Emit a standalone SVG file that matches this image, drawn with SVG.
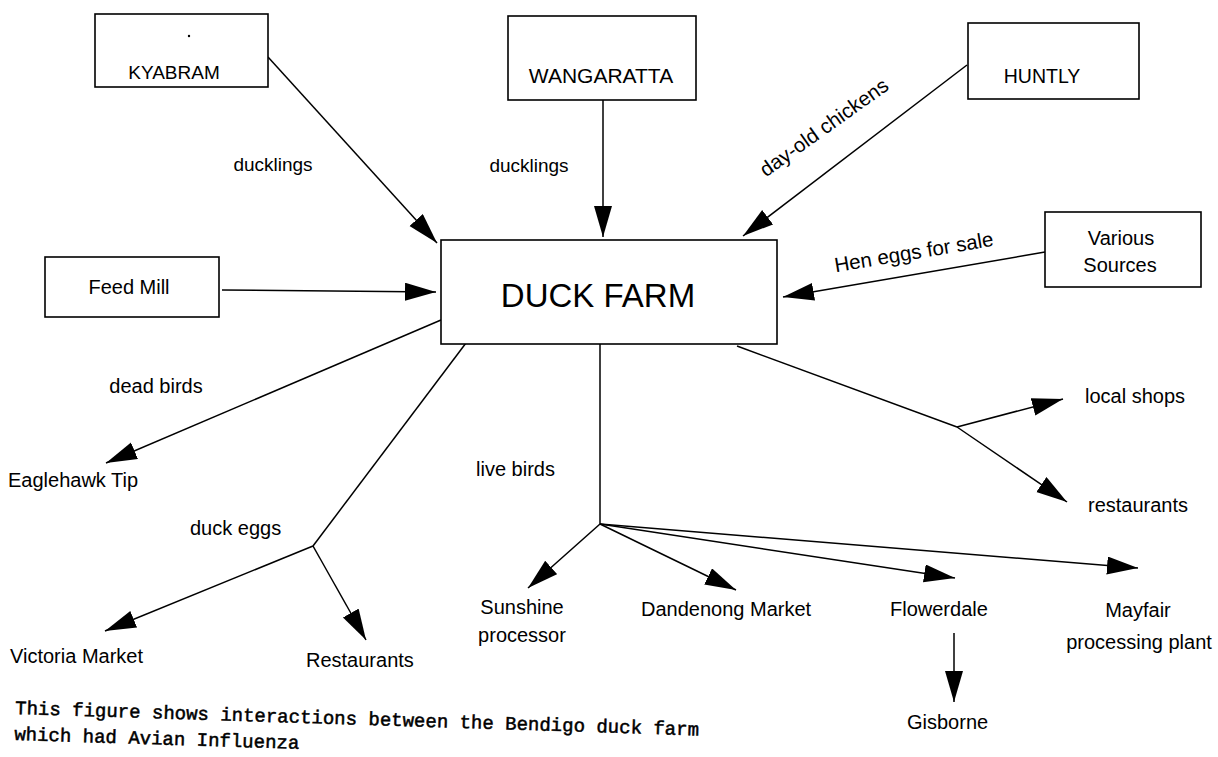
<svg xmlns="http://www.w3.org/2000/svg" width="1218" height="757" viewBox="0 0 1218 757">
<style>
.box{fill:#fff;stroke:#000;stroke-width:1.6}
.t{font-family:"Liberation Sans",Arial,sans-serif;font-size:20px;fill:#000}
.c{text-anchor:middle}
.ln{stroke:#000;stroke-width:1.5;fill:none}
.ar{marker-end:url(#ah)}
.cap{font-family:"Liberation Mono","Courier New",monospace;font-size:19px;fill:#000;stroke:#000;stroke-width:0.5}
</style>
<defs>
<marker id="ah" markerUnits="userSpaceOnUse" markerWidth="34" markerHeight="20" refX="31" refY="9" orient="auto">
<path d="M0,0 L31,9 L0,18 z" fill="#000"/>
</marker>
</defs>
<rect width="1218" height="757" fill="#fff"/>
<g id="connectors">
<line class="ln ar" x1="268" y1="57" x2="437" y2="243"/>
<line class="ln ar" x1="603" y1="100" x2="603" y2="237"/>
<line class="ln ar" x1="967" y1="65" x2="743" y2="236"/>
<line class="ln ar" x1="1045" y1="252" x2="783" y2="297"/>
<line class="ln ar" x1="222" y1="290" x2="436" y2="292"/>
<line class="ln ar" x1="441" y1="320" x2="106" y2="463"/>
<line class="ln" x1="466" y1="343" x2="313" y2="546"/>
<line class="ln ar" x1="313" y1="546" x2="105" y2="631"/>
<line class="ln ar" x1="313" y1="546" x2="366" y2="640"/>
<line class="ln" x1="600" y1="344" x2="600" y2="524"/>
<line class="ln ar" x1="600" y1="524" x2="528" y2="588"/>
<line class="ln ar" x1="600" y1="524" x2="736" y2="590"/>
<line class="ln ar" x1="600" y1="524" x2="955" y2="578"/>
<line class="ln ar" x1="600" y1="524" x2="1138" y2="568"/>
<line class="ln ar" x1="954" y1="633" x2="954" y2="702"/>
<line class="ln" x1="737" y1="346" x2="957" y2="427"/>
<line class="ln ar" x1="957" y1="427" x2="1063" y2="399"/>
<line class="ln ar" x1="957" y1="427" x2="1067" y2="502"/>
</g>
<g id="kyabram">
<rect class="box" x="95" y="14" width="173" height="73"/>
<circle cx="189" cy="36" r="1.2" fill="#000"/>
<text class="t c" x="174" y="79" style="font-size:19px">KYABRAM</text>
</g>
<g id="wangaratta">
<rect class="box" x="508" y="16" width="188" height="84"/>
<text class="t c" x="601" y="83" style="font-size:21px">WANGARATTA</text>
</g>
<g id="huntly">
<rect class="box" x="968" y="23" width="171" height="76"/>
<text class="t c" x="1042" y="83" style="font-size:19.5px">HUNTLY</text>
</g>
<g id="feedmill">
<rect class="box" x="45" y="257" width="174" height="60"/>
<text class="t c" x="129" y="294">Feed Mill</text>
</g>
<g id="duckfarm">
<rect class="box" x="441" y="240" width="336" height="104"/>
<text class="t c" x="598" y="307" style="font-size:33px">DUCK FARM</text>
</g>
<g id="various">
<rect class="box" x="1045" y="212" width="156" height="75"/>
<text class="t c" x="1121" y="245">Various</text>
<text class="t c" x="1120" y="272">Sources</text>
</g>
<g id="labels">
<text class="t c" x="273" y="171" style="font-size:19px">ducklings</text>
<text class="t c" x="529" y="172" style="font-size:19px">ducklings</text>
<text class="t c" x="828" y="133" transform="rotate(-35.6 828 133)" style="font-size:20.5px">day-old chickens</text>
<text class="t c" x="915" y="259" transform="rotate(-9.5 915 259)" style="font-size:20.5px">Hen eggs for sale</text>
<text class="t c" x="156" y="393">dead birds</text>
<text class="t" x="190" y="535">duck eggs</text>
<text class="t" x="476" y="476">live birds</text>
</g>
<g id="eaglehawk"><text class="t" x="8" y="487">Eaglehawk Tip</text></g>
<g id="victoria"><text class="t" x="10" y="663">Victoria Market</text></g>
<g id="restaurants1"><text class="t" x="306" y="667">Restaurants</text></g>
<g id="sunshine"><text class="t c" x="522" y="614">Sunshine</text><text class="t c" x="522" y="642">processor</text></g>
<g id="dandenong"><text class="t" x="641" y="616">Dandenong Market</text></g>
<g id="flowerdale"><text class="t" x="890" y="616">Flowerdale</text></g>
<g id="mayfair"><text class="t c" x="1138" y="617">Mayfair</text><text class="t c" x="1139" y="649">processing plant</text></g>
<g id="gisborne"><text class="t" x="907" y="729">Gisborne</text></g>
<g id="localshops"><text class="t" x="1085" y="403">local shops</text></g>
<g id="restaurants2"><text class="t" x="1088" y="512">restaurants</text></g>
<g id="caption" transform="rotate(1.8 15 714)">
<text class="cap" x="15" y="714">This figure shows interactions between the Bendigo duck farm</text>
<text class="cap" x="15" y="740">which had Avian Influenza</text>
</g>
</svg>
